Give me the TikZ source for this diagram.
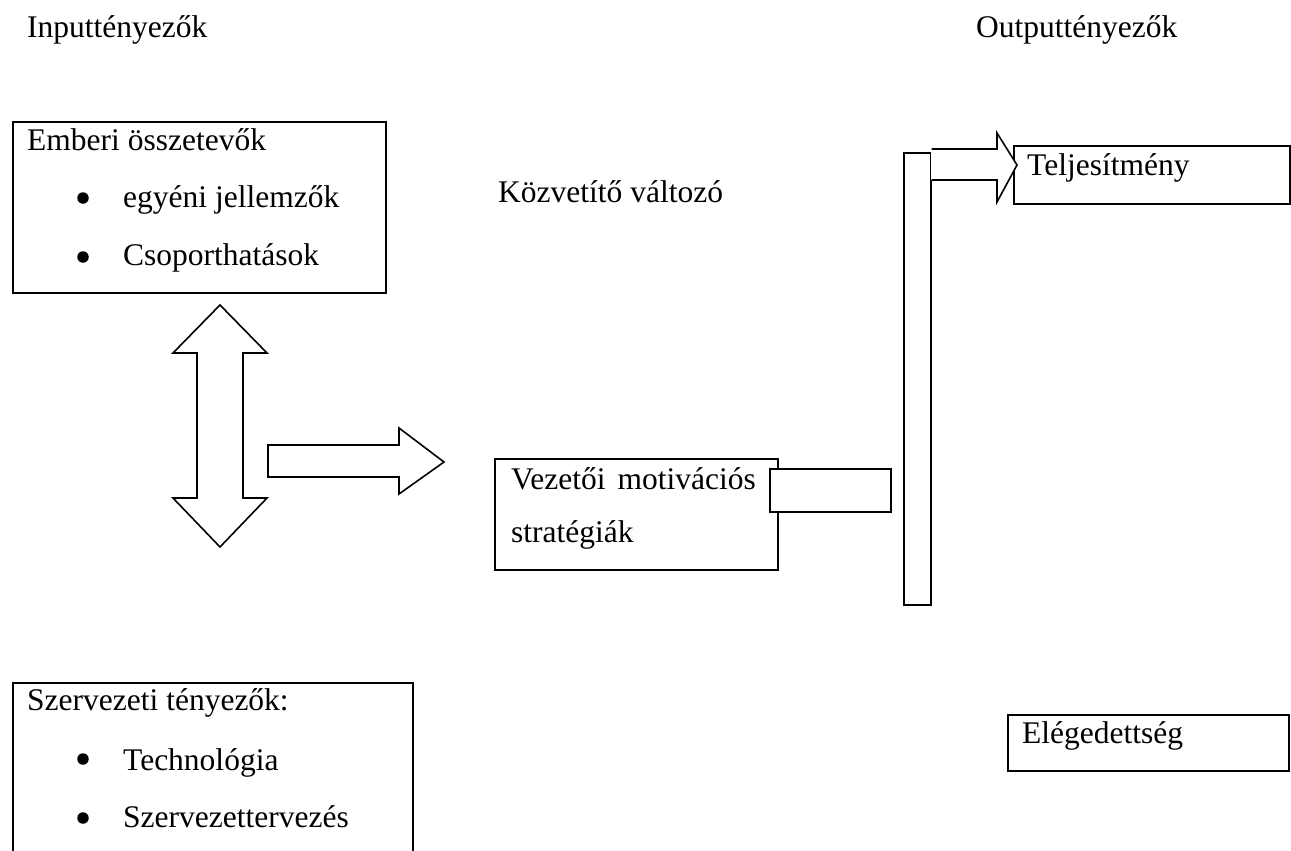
\documentclass[tikz,border=0pt]{standalone}
\usepackage{fontspec}
\setmainfont{Liberation Serif}
\begin{document}
\begin{tikzpicture}[x=1pt,y=-1pt,
  txt/.style={anchor=base west,inner sep=0pt,font=\fontsize{31.5}{37}\selectfont},
  box/.style={draw,line width=2pt,anchor=north west,inner sep=0pt,fill=white},
  bul/.style={circle,fill=black,inner sep=0pt,minimum size=11.5pt},
  arr/.style={draw,line width=1.6pt,line join=miter,fill=white}]
\useasboundingbox (0,0) rectangle (1291,851);
\clip (0,0) rectangle (1291,851);
% boxes
\node[box,minimum width=373pt,minimum height=171pt] (human) at (12,121) {};
\node[box,minimum width=400pt,minimum height=200pt] (org) at (12,682) {};
\node[box,minimum width=283pt,minimum height=111pt] (lead) at (494,458) {};
\node[box,minimum width=121pt,minimum height=43pt] (stub) at (769,468) {};
\node[draw,line width=1.6pt,anchor=north west,inner sep=0pt,minimum width=27pt,minimum height=452pt] (bar) at (903,152) {};
\node[box,minimum width=276pt,minimum height=58pt] (perf) at (1013,145) {};
\node[box,minimum width=281pt,minimum height=56pt] (sat) at (1007,714) {};
% arrows
\path[arr] (220,305) -- (267,353) -- (243,353) -- (243,498) -- (267,498) -- (220,547)
  -- (173,498) -- (197,498) -- (197,353) -- (173,353) -- cycle;
\path[arr] (268,445) -- (399,445) -- (399,428) -- (444,462) -- (399,494) -- (399,477) -- (268,477) -- cycle;
\fill[white] (931,149) -- (997,149) -- (997,133) -- (1017,165) -- (997,202) -- (997,180) -- (931,180) -- cycle;
\draw[line width=1.6pt,line join=miter] (bar.north east |- 0,149) -- (997,149) -- (997,133) -- (1017,165) -- (997,202) -- (997,180) -- (bar.north east |- 0,180);
% headings
\node[txt] (inp) at (27,38) {Inputtényezők};
\node[txt] (outp) at (976,38) {Outputtényezők};
\node[txt] (medi) at (498,202) {Közvetítő változó};
% human box text
\node[txt] (h0) at (27,150) {Emberi összetevők};
\node[bul] (hb1) at (83,198) {};
\node[txt] (h1) at (123,207) {egyéni jellemzők};
\node[bul] (hb2) at (83,257) {};
\node[txt] (h2) at (123,265) {Csoporthatások};
% org box text
\node[txt] (o0) at (27,710) {Szervezeti tényezők:};
\node[bul] (ob1) at (83,759) {};
\node[txt] (o1) at (123,770) {Technológia};
\node[bul] (ob2) at (83,818) {};
\node[txt] (o2) at (123,827) {Szervezettervezés};
% leader box text
\node[txt] (l1) at (511,489) {Vezetői\hspace{4pt} motivációs};
\node[txt] (l2) at (511,542) {stratégiák};
% outputs
\node[txt] (p1) at (1027,175) {Teljesítmény};
\node[txt] (s1) at (1022,743) {Elégedettség};
\end{tikzpicture}
\end{document}
